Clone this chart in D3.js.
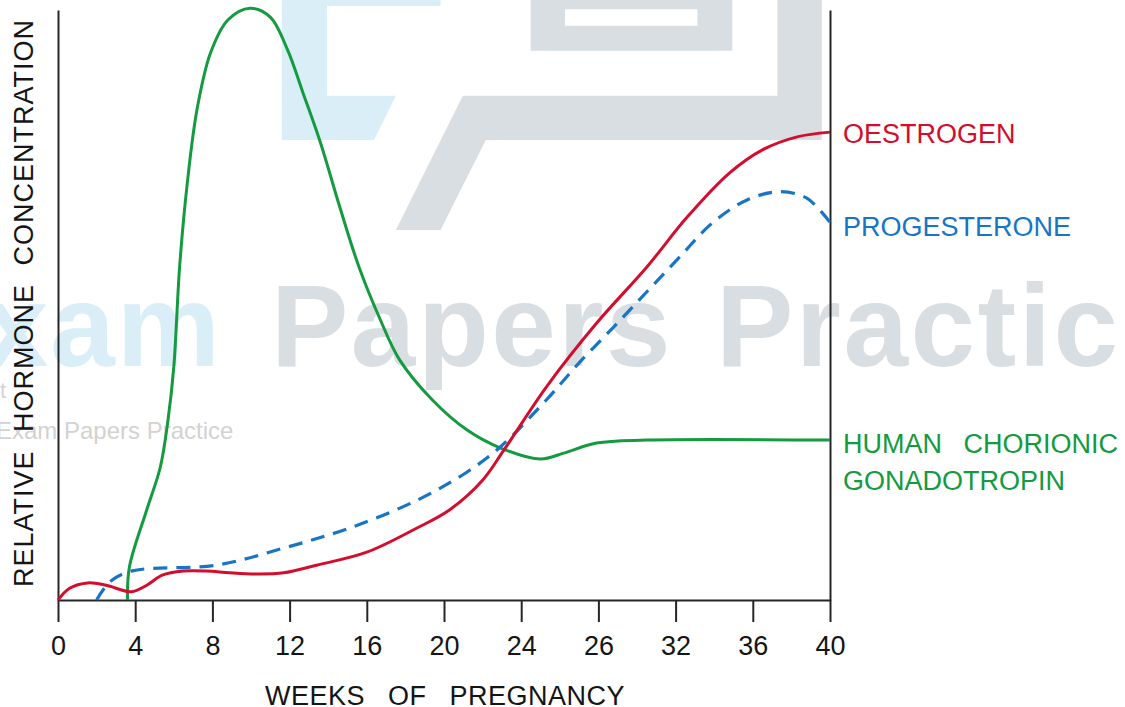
<!DOCTYPE html>
<html>
<head>
<meta charset="utf-8">
<script src="https://cdn.jsdelivr.net/npm/d3@7/dist/d3.min.js"></script>
<style>
  html, body { margin: 0; padding: 0; background: #fff; }
  svg { display: block; }
  text { font-family: "Liberation Sans", Arial, sans-serif; }
</style>
</head>
<body>
<svg id="chart" width="1125" height="707"></svg>
<script>
// ---- data ----
const xTickValues = [0, 4, 8, 12, 16, 20, 24, 28, 32, 36, 40];
const xTickLabels = ["0", "4", "8", "12", "16", "20", "24", "26", "32", "36", "40"];

const oestrogenWeeks  = [0, 0.6, 1.55, 2.5, 3.8, 4.6, 5.4, 6.5, 7.7, 8.9, 10.3, 11.7, 13.4, 16.0, 18.6, 20.3, 22.0, 23.1, 25.3, 27.9, 30.5, 32.6, 34.8, 36.5, 38.3, 40];
const oestrogenValues = [0, 2.0, 2.9, 2.5, 1.4, 2.5, 4.2, 4.9, 4.9, 4.6, 4.4, 4.6, 5.9, 8.1, 12.2, 15.3, 20.3, 25.4, 36.1, 46.9, 56.4, 64.9, 72.4, 76.3, 78.5, 79.3];

const progesteroneWeeks  = [2.0, 2.7, 3.8, 8.2, 11.7, 15.1, 18.6, 21.2, 22.9, 25.3, 27.0, 28.8, 30.5, 32.2, 33.9, 35.7, 37.4, 38.8, 40];
const progesteroneValues = [0, 3.1, 4.9, 5.9, 8.8, 12.2, 16.9, 21.7, 25.9, 33.9, 40.2, 46.3, 52.2, 58.1, 63.9, 67.8, 69.2, 68.1, 64.0];

const hcgWeeks  = [3.6, 3.7, 4.6, 5.3, 5.7, 6.0, 6.3, 6.7, 7.2, 7.9, 8.8, 9.95, 11.0, 11.9, 12.7, 13.6, 14.6, 15.6, 16.7, 17.7, 19.4, 21.2, 22.9, 25.0, 26.2, 27.9, 30.5, 40];
const hcgValues = [0, 5.6, 15.3, 22.5, 30.5, 39.5, 56.4, 70.7, 83.1, 92.7, 98.3, 100.3, 98.8, 93.2, 85.9, 77.5, 66.6, 56.4, 47.5, 40.7, 33.9, 28.8, 25.8, 23.9, 24.9, 26.6, 27.1, 27.1];

const seriesNames = ["OESTROGEN", "PROGESTERONE", ["HUMAN CHORIONIC", "GONADOTROPIN"]];
const xTitle = "WEEKS OF PREGNANCY";
const yTitle = "RELATIVE HORMONE CONCENTRATION";
const watermarkWords = ["Exam", "Papers", "Practice"];

// ---- styles ----
const RED = "#d20d2d", BLUE = "#1875c6", GREEN = "#149a3f", AXIS = "#262626", INK = "#151515";

const svg = d3.select("#chart");
const x = d3.scaleLinear().domain([0, 40]).range([58, 830]);
const y = d3.scaleLinear().domain([0, 100]).range([600, 10]);

// ---- watermark (faint, behind the chart) ----
const wm = svg.append("g").attr("class", "watermark");
wm.append("path")
  .attr("d", "M281.8,0 L440.6,0 L440.6,6 L327,6 L327,95.7 L395.9,95.7 L374,140 L281.8,140 Z")
  .attr("fill", "#d9eef7");
wm.append("path")
  .attr("d", "M530.6,0 L732.3,0 L732.3,50.7 L530.6,50.7 Z M565,9.3 L565,25.7 L697.4,25.7 L697.4,9.3 Z")
  .attr("fill", "#d9dee2").attr("fill-rule", "evenodd");
wm.append("path")
  .attr("d", "M777.4,0 L821.8,0 L821.8,140 L485.8,140 L440.6,230 L395.9,230 L462.8,95.7 L777.4,95.7 Z")
  .attr("fill", "#d9dee2");
const wmFont = "'Open Sans', 'DejaVu Sans', sans-serif";
wm.append("text").text(watermarkWords[0]).attr("x", 222).attr("y", 366)
  .attr("text-anchor", "end").attr("font-family", wmFont).attr("font-weight", 700)
  .attr("font-size", 116).attr("fill", "#d9eef7").style("letter-spacing", "2px");
wm.append("text").text(watermarkWords[1]).attr("x", 271).attr("y", 366)
  .attr("font-family", wmFont).attr("font-weight", 700)
  .attr("font-size", 116).attr("fill", "#d9dee2").style("letter-spacing", "2.5px");
wm.append("text").text(watermarkWords[2]).attr("x", 716).attr("y", 366)
  .attr("font-family", wmFont).attr("font-weight", 700)
  .attr("font-size", 116).attr("fill", "#d9dee2").style("letter-spacing", "2.5px");
wm.append("text").text(watermarkWords.join(" ")).attr("x", -4).attr("y", 439)
  .attr("font-size", 24).attr("fill", "#d2d2d2");
wm.append("text").text("t").attr("x", 0).attr("y", 398)
  .attr("font-size", 22).attr("fill", "#d2d2d2");

// ---- axes ----
const xAxis = d3.axisBottom(x)
  .tickValues(xTickValues)
  .tickFormat((d, i) => xTickLabels[i])
  .tickSize(22).tickSizeOuter(0).tickPadding(14);
const gx = svg.append("g").attr("transform", `translate(0,${y(0)})`).call(xAxis);
gx.select(".domain").attr("stroke", AXIS).attr("stroke-width", 2);
gx.selectAll(".tick line").attr("stroke", AXIS).attr("stroke-width", 2);
gx.selectAll(".tick text").attr("font-size", 27).attr("fill", INK)
  .attr("font-family", "'Liberation Sans', Arial, sans-serif");

const yAxis = d3.axisLeft(y).tickValues([]).tickSizeOuter(0);
const gy = svg.append("g").attr("transform", `translate(${x(0)},0)`).call(yAxis);
gy.select(".domain").attr("stroke", AXIS).attr("stroke-width", 2);

const yAxisRight = d3.axisRight(y).tickValues([]).tickSizeOuter(0);
const gyr = svg.append("g").attr("transform", `translate(${x(40)},0)`).call(yAxisRight);
gyr.select(".domain").attr("stroke", AXIS).attr("stroke-width", 2);

// ---- titles ----
svg.append("text").text(xTitle)
  .attr("x", 265).attr("y", 705)
  .attr("font-size", 27).attr("fill", INK)
  .style("letter-spacing", "0.5px").style("word-spacing", "15px");
svg.append("text").text(yTitle)
  .attr("transform", "translate(33,587) rotate(-90)")
  .attr("font-size", 27).attr("fill", INK)
  .style("letter-spacing", "1px").style("word-spacing", "10px");

// ---- lines ----
const line = d3.line().x(d => x(d[0])).y(d => y(d[1])).curve(d3.curveCatmullRom.alpha(0.5));
const zip = (a, b) => a.map((v, i) => [v, b[i]]);

svg.append("path").datum(zip(hcgWeeks, hcgValues))
  .attr("d", line).attr("fill", "none").attr("stroke", GREEN).attr("stroke-width", 3);
svg.append("path").datum(zip(progesteroneWeeks, progesteroneValues))
  .attr("d", line).attr("fill", "none").attr("stroke", BLUE).attr("stroke-width", 3.2)
  .attr("stroke-dasharray", "14,9");
svg.append("path").datum(zip(oestrogenWeeks, oestrogenValues))
  .attr("d", line).attr("fill", "none").attr("stroke", RED).attr("stroke-width", 3);

// ---- series labels ----
svg.append("text").text(seriesNames[0]).attr("x", 843).attr("y", 143)
  .attr("font-size", 27).attr("fill", RED);
svg.append("text").text(seriesNames[1]).attr("x", 843).attr("y", 236)
  .attr("font-size", 27).attr("fill", BLUE);
svg.append("text").text(seriesNames[2][0]).attr("x", 843).attr("y", 453)
  .attr("font-size", 27).attr("fill", GREEN).style("word-spacing", "14px");
svg.append("text").text(seriesNames[2][1]).attr("x", 843).attr("y", 490)
  .attr("font-size", 27).attr("fill", GREEN);
</script>
</body>
</html>
